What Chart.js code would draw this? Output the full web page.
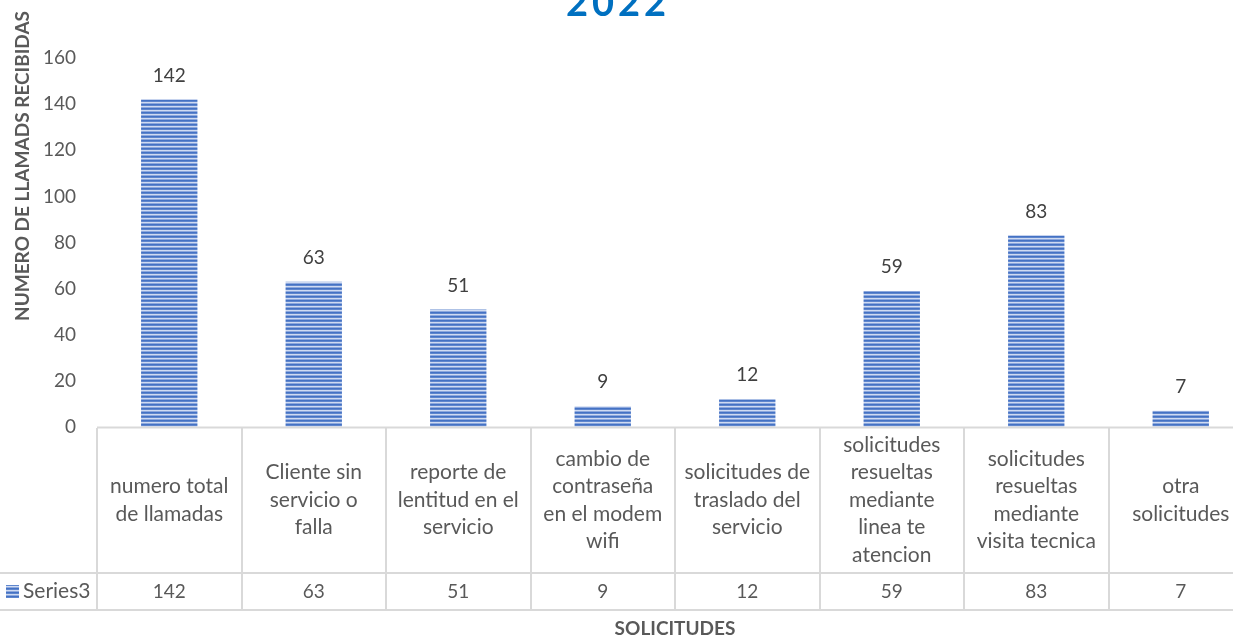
<!DOCTYPE html>
<html>
<head>
<meta charset="utf-8">
<script src="https://cdn.jsdelivr.net/npm/chart.js@4.4.0/dist/chart.umd.min.js"></script>
<style>
    html, body { margin: 0; padding: 0; background: #fff; overflow: hidden; }
    #wrap { width: 1233px; height: 640px; overflow: hidden; }
    canvas { display: block; }
</style>
</head>
<body>
<div id="wrap"><canvas id="chart" width="1253" height="640"></canvas></div>
<script>
// Data
const categories = [
    ['numero total', 'de llamadas'],
    ['Cliente sin', 'servicio o', 'falla'],
    ['reporte de', 'lentitud en el', 'servicio'],
    ['cambio de', 'contraseña', 'en el modem', 'wifi'],
    ['solicitudes de', 'traslado del', 'servicio'],
    ['solicitudes', 'resueltas', 'mediante', 'linea te', 'atencion'],
    ['solicitudes', 'resueltas', 'mediante', 'visita tecnica'],
    ['otra', 'solicitudes']
];
const seriesName = 'Series3';
const values = [142, 63, 51, 9, 12, 59, 83, 7];
const yTicks = [0, 20, 40, 60, 80, 100, 120, 140, 160];
const chartTitle = '2022';
const yTitle = 'NUMERO DE LLAMADS RECIBIDAS';
const xTitle = 'SOLICITUDES';

const FONT = 'Lato';
const TEXT = '#595959';
const GRID = '#D9D9D9';

const canvas = document.getElementById('chart');
const ctx = canvas.getContext('2d');

// Striped fill like the Excel pattern
function makeStripes() {
    const c = document.createElement('canvas');
    c.width = 4;
    c.height = 4;
    const g = c.getContext('2d');
    const rows = ['#4472C4', '#5F86CD', '#CFDBF2', '#8DA8DD'];
    rows.forEach((col, i) => {
        g.fillStyle = col;
        g.fillRect(0, i, 4, 1);
    });
    return ctx.createPattern(c, 'repeat');
}
const stripes = makeStripes();

// Value labels above bars
const valueLabels = {
    id: 'valueLabels',
    afterDatasetsDraw(chart) {
        const c = chart.ctx;
        const meta = chart.getDatasetMeta(0);
        c.save();
        c.font = `19px ${FONT}`;
        c.fillStyle = '#404040';
        c.textAlign = 'center';
        c.textBaseline = 'middle';
        meta.data.forEach((bar, i) => {
            c.fillText(values[i], bar.x, bar.y - 24);
        });
        c.restore();
    }
};

// Data table under the plot + titles
const dataTable = {
    id: 'dataTable',
    afterDraw(chart) {
        const c = chart.ctx;
        const area = chart.chartArea;
        const x = chart.scales.x;
        const n = categories.length;
        const step = (area.right - area.left) / n;
        const top = area.bottom;
        const rowSplit = 573;
        const bottom = 610;

        c.save();
        c.strokeStyle = GRID;
        c.lineWidth = 2;
        c.beginPath();
        c.moveTo(area.left, top + 0.5);
        c.lineTo(area.right, top + 0.5);
        c.moveTo(0, rowSplit);
        c.lineTo(area.right, rowSplit);
        c.moveTo(0, bottom);
        c.lineTo(area.right, bottom);
        for (let i = 0; i <= n; i++) {
            const bx = Math.round(area.left + i * step);
            c.moveTo(bx, top + 1);
            c.lineTo(bx, bottom);
        }
        c.stroke();

        // category labels
        c.fillStyle = TEXT;
        c.font = `21px ${FONT}`;
        c.textAlign = 'center';
        c.textBaseline = 'middle';
        const midY = (top + rowSplit) / 2;
        const lh = 27.5;
        categories.forEach((lines, i) => {
            const cx = x.getPixelForValue(i);
            const y0 = midY - (lines.length - 1) * lh / 2;
            lines.forEach((t, j) => c.fillText(t, cx, y0 + j * lh));
        });

        // value row
        c.font = `19px ${FONT}`;
        values.forEach((v, i) => {
            c.fillText(v, x.getPixelForValue(i), (rowSplit + bottom) / 2);
        });

        // legend key
        c.fillStyle = stripes;
        c.fillRect(6, 585, 13, 13);
        c.fillStyle = TEXT;
        c.textAlign = 'left';
        c.font = `21px ${FONT}`;
        c.fillText(seriesName, 23, (rowSplit + bottom) / 2);

        // axis titles
        c.font = `bold 19px ${FONT}`;
        c.textAlign = 'center';
        c.fillText(xTitle, (area.left + area.right) / 2, 629);
        c.save();
        c.translate(23, 166);
        c.rotate(-Math.PI / 2);
        c.fillText(yTitle, 0, 0);
        c.restore();

        // chart title (cut at the top)
        c.font = `bold 38px ${FONT}`;
        c.fillStyle = '#0070C0';
        c.letterSpacing = '4px';
        c.textBaseline = 'alphabetic';
        c.fillText(chartTitle, 618, 16);
        c.restore();
    }
};

// Chart
new Chart(ctx, {
    type: 'bar',
    data: {
        labels: categories.map(l => l.join(' ')),
        datasets: [{
            label: seriesName,
            data: values,
            backgroundColor: stripes,
            borderWidth: 0,
            categoryPercentage: 1,
            barPercentage: 0.39
        }]
    },
    options: {
        responsive: false,
        animation: false,
        layout: { padding: { top: 58, left: 0, right: 0, bottom: 0 } },
        plugins: {
            legend: { display: false },
            tooltip: { enabled: false }
        },
        scales: {
            x: {
                grid: { display: false, drawTicks: false },
                border: { display: false },
                ticks: { display: false },
                afterFit: (scale) => { scale.height = 213; }
            },
            y: {
                min: yTicks[0],
                max: yTicks[yTicks.length - 1],
                afterBuildTicks: (scale) => { scale.ticks = yTicks.map(v => ({ value: v })); },
                grid: { display: false, drawTicks: false },
                border: { display: false },
                ticks: {
                    padding: 21,
                    color: TEXT,
                    font: { family: FONT, size: 19 }
                },
                afterFit: (scale) => { scale.width = 97; }
            }
        }
    },
    plugins: [valueLabels, dataTable]
});
</script>
</body>
</html>
